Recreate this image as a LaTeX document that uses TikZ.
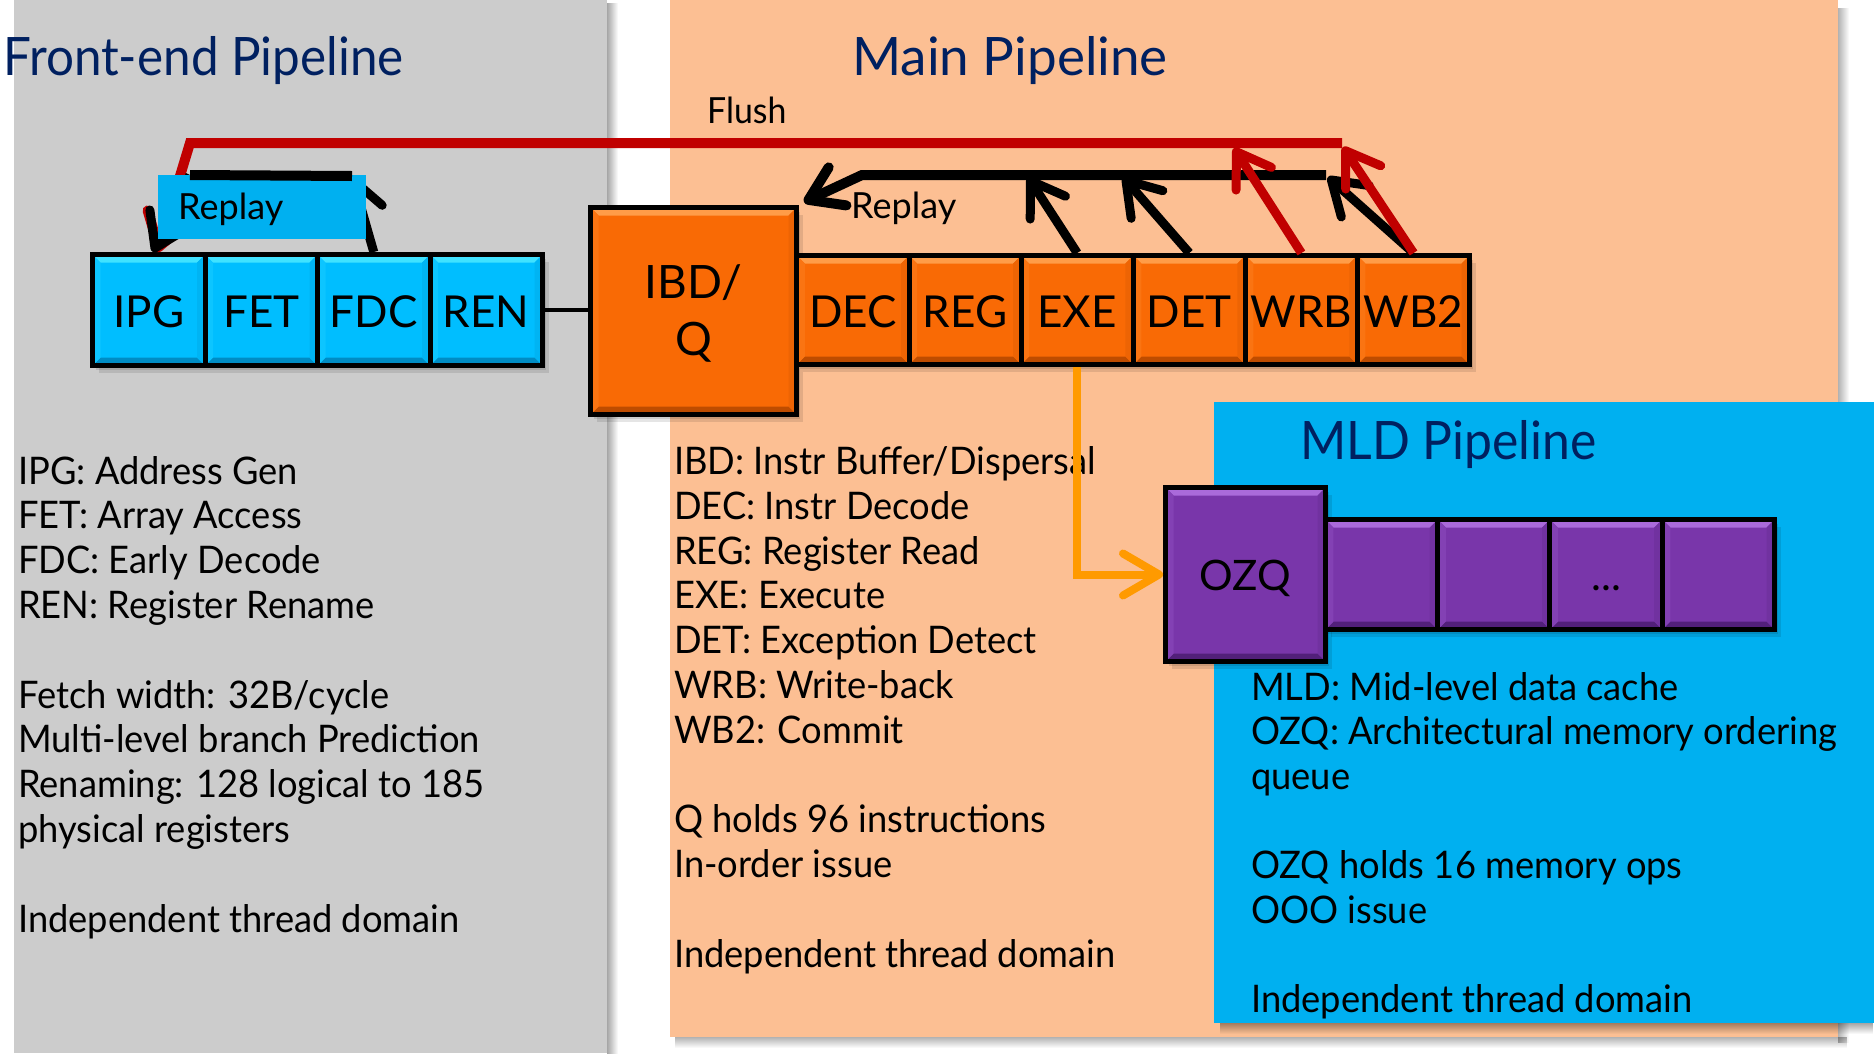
\documentclass[tikz,border=0pt]{standalone}
\usepackage{fontspec}
\setmainfont{Lato}
\newfontfamily\bodyfont{Lato}[FakeStretch=0.955]
\usetikzlibrary{arrows.meta,fadings,shadows}

\definecolor{panelgray}{HTML}{CCCCCC}
\definecolor{panelpeach}{HTML}{FCBF93}
\definecolor{panelblue}{HTML}{00B0F0}
\definecolor{navy}{HTML}{002060}
\definecolor{flushred}{HTML}{C00000}
\definecolor{amber}{HTML}{FF9A00}
\definecolor{cyanface}{HTML}{00BEFF}
\definecolor{cyanlight}{HTML}{40E2FF}
\definecolor{cyandark}{HTML}{008CC4}
\definecolor{orgface}{HTML}{F96A05}
\definecolor{orglight}{HTML}{FF9C48}
\definecolor{orgdark}{HTML}{BE4C00}
\definecolor{purface}{HTML}{7936AA}
\definecolor{purlight}{HTML}{AA6ADA}
\definecolor{purdark}{HTML}{52207A}

\tikzset{
  bevel/.style n args={3}{
    fill=#1,
    path picture={
      \fill[#2] (path picture bounding box.north west) -- (path picture bounding box.north east)
        -- ([shift={(-8bp,-8bp)}]path picture bounding box.north east)
        -- ([shift={(8bp,-8bp)}]path picture bounding box.north west) -- cycle;
      \fill[#3] (path picture bounding box.south west) -- (path picture bounding box.south east)
        -- ([shift={(-8bp,8bp)}]path picture bounding box.south east)
        -- ([shift={(8bp,8bp)}]path picture bounding box.south west) -- cycle;
      \fill[#1!80!#2] (path picture bounding box.north west) -- ([shift={(8bp,-8bp)}]path picture bounding box.north west)
        -- ([shift={(8bp,8bp)}]path picture bounding box.south west) -- (path picture bounding box.south west) -- cycle;
      \fill[#1!80!#3] (path picture bounding box.north east) -- ([shift={(-8bp,-8bp)}]path picture bounding box.north east)
        -- ([shift={(-8bp,8bp)}]path picture bounding box.south east) -- (path picture bounding box.south east) -- cycle;
    }},
  boxshadow/.style={
    general shadow={fill=black, opacity=.10, shadow xshift=3bp, shadow yshift=-4bp},
    general shadow={fill=black, opacity=.10, shadow xshift=6bp, shadow yshift=-7bp}},
  stage/.style={draw=black, line width=5bp, inner sep=0pt, boxshadow,
    font=\fontsize{44bp}{50bp}\selectfont, text height=35bp, text depth=0pt},
  festage/.style={stage, bevel={cyanface}{cyanlight}{cyandark}, minimum width=112.5bp, minimum height=111bp},
  mpstage/.style={stage, bevel={orgface}{orglight}{orgdark}, minimum width=112.1bp, minimum height=109bp},
  mldstage/.style={stage, bevel={purface}{purlight}{purdark}, minimum width=112.25bp, minimum height=110bp,
    font=\fontsize{42bp}{46bp}\selectfont, text height=31bp},
  title/.style={font=\fontsize{53bp}{60bp}\selectfont, text=navy, inner sep=0pt, anchor=base west},
  body/.style={font=\bodyfont\fontsize{38bp}{45bp}\selectfont, inner sep=0pt, anchor=base west},
  tag/.style={font=\fontsize{36bp}{42bp}\selectfont, inner sep=0pt, anchor=base west},
  blkarrow/.style={draw=black, line width=9bp, -{Straight Barb[length=32bp, width=42bp, round]}},
  redarrow/.style={draw=flushred, line width=9bp, -{Straight Barb[length=32bp, width=42bp, round]}},
  blkbar/.style={draw=black, line width=10bp},
}

\begin{document}
\begin{tikzpicture}[x=1bp, y=-1bp]
  \useasboundingbox (0,0) rectangle (1874,1053);
  \fill[white] (0,0) rectangle (1874,1053);

  % panels and their shadows
  \fill[panelgray] (14,0) rectangle (607,1053);
  \fill[black, opacity=.35, path fading=east] (607,0) rectangle (618,1053);
  \fill[black, opacity=.30, path fading=east] (1838,6) rectangle (1849,1042);
  \fill[black, opacity=.30, path fading=south] (676,1037) rectangle (1849,1048);
  \fill[panelpeach] (670,0) rectangle (1838,1037);
  \fill[black, opacity=.35, path fading=south] (1220,1023) rectangle (1874,1034);
  \fill[panelblue] (1214,402) rectangle (1874,1023);

  % titles
  \node[title] (fe-title) at (3,75) {\scalebox{0.932}[1]{Front-end Pipeline}};
  \node[title] (mp-title) at (852,75) {Main Pipeline};
  \node[title] (mld-title) at (1300,459) {\scalebox{0.94}[1]{MLD Pipeline}};

  % front-end stages
  \node[festage] (ipg) at (148.75,310) {IPG};
  \node[festage] (fet) at (261.25,310) {FET};
  \node[festage] (fdc) at (373.75,310) {FDC};
  \node[festage] (ren) at (486.25,310) {REN};

  % main pipeline
  \node[stage, bevel={orgface}{orglight}{orgdark}, minimum width=206bp, minimum height=207bp] (ibd) at (693.5,311) {};
  \node[font=\fontsize{46bp}{57bp}\selectfont, inner sep=0pt, anchor=base] (ibd-l1) at (693.5,298) {IBD/};
  \node[font=\fontsize{46bp}{57bp}\selectfont, inner sep=0pt, anchor=base] (ibd-l2) at (693.5,355) {Q};
  \node[mpstage] (dec) at (853.0,310) {DEC};
  \node[mpstage] (reg) at (965.1,310) {REG};
  \node[mpstage] (exe) at (1077.2,310) {EXE};
  \node[mpstage] (det) at (1189.3,310) {DET};
  \node[mpstage] (wrb) at (1301.4,310) {WRB};
  \node[mpstage] (wbt) at (1413.5,310) {WB2};
  \draw[line width=4bp] (ren.east) -- (ren.east -| ibd.west);

  % MLD pipeline
  \node[mldstage, minimum width=160bp, minimum height=174bp] (ozq) at (1245.5,574.5) {OZQ};
  \node[mldstage] (mq1) at (1381.6,574.5) {};
  \node[mldstage] (mq2) at (1493.9,574.5) {};
  \node[mldstage] (mq3) at (1606.1,574.5) {...};
  \node[mldstage] (mq4) at (1718.4,574.5) {};

  % replay paths of the main pipeline
  \coordinate (rp-r) at (1326,175);
  \coordinate (rp-l) at (862,175);
  \coordinate (rp-tip) at (804,202);
  \draw[blkarrow, line width=10bp, line join=miter] (rp-r) -- (rp-l) -- (rp-tip);
  \draw[blkarrow] (exe.north) -- (1028,177);
  \draw[blkarrow] (det.north) -- (1123,177);
  \draw[blkarrow] (wbt.north) -- (1328,177);
  \node[tag] (rp-lbl) at (851,218) {Replay};

  % flush path
  \coordinate (fl-r) at (1342,143);
  \coordinate (fl-l) at (190,143);
  \coordinate (fl-tip) at (157,252);
  \draw[redarrow, line width=10bp] (fl-r) -- (fl-l) -- (fl-tip);
  \draw[redarrow] (wrb.north) -- (1234,148);
  \draw[redarrow] (wbt.north) -- (1343,147);
  \node[tag] (fl-lbl) at (707,123) {\scalebox{0.94}[1]{Flush}};

  % front-end replay
  \coordinate (fb-r) at (352,176);
  \coordinate (fb-l) at (190,175);
  \coordinate (fb-tip) at (153,252);
  \draw[blkarrow] (fdc.north) -- (fb-r);
  \draw[blkarrow] (fb-l) -- (fb-tip);

  % front-end replay box over the loop
  \node[fill=panelblue, minimum width=208bp, minimum height=64bp, inner sep=0pt, anchor=north west]
    (fe-rp) at (158,175) {};
  \node[tag] (fe-rp-lbl) at (178,219) {Replay};
  \draw[blkbar] (fb-r) -- (fb-l);

  % descriptions
  \foreach \k/\t in {0/{IPG: Address Gen}, 1/{FET: Array Access}, 2/{FDC: Early Decode},
      3/{REN: Register Rename}, 5/{Fetch width: 32B/cycle}, 6/{Multi-level branch Prediction},
      7/{Renaming: 128 logical to 185}, 8/{physical registers}, 10/{Independent thread domain}}
    \node[body] (fe-txt-\k) at (18,{484+44.8*\k}) {\t};
  \foreach \k/\t in {0/{IBD: Instr Buffer/Dispersal}, 1/{DEC: Instr Decode}, 2/{REG: Register Read},
      3/{EXE: Execute}, 4/{DET: Exception Detect}, 5/{WRB: Write-back}, 6/{WB2: Commit},
      8/{Q holds 96 instructions}, 9/{In-order issue}, 11/{Independent thread domain}}
    \node[body] (mp-txt-\k) at (674,{474.5+44.8*\k}) {\t};
  \foreach \k/\t in {0/{MLD: Mid-level data cache}, 1/{OZQ: Architectural memory ordering},
      2/{queue}, 4/{OZQ holds 16 memory ops}, 5/{OOO issue}, 7/{Independent thread domain}}
    \node[body] (mld-txt-\k) at (1251,{700+44.6*\k}) {\t};

  % issue path into the MLD queue
  \draw[draw=amber, line width=8bp, -{Straight Barb[length=36bp, width=42bp, round]}]
    (exe.south) |- (ozq.west);
\end{tikzpicture}
\end{document}
